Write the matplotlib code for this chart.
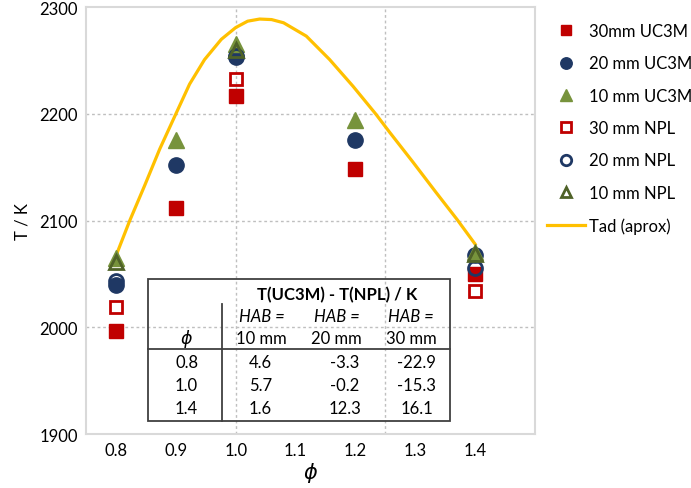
import matplotlib.pyplot as plt
from matplotlib.patches import Rectangle

plt.rcParams['font.family'] = ['Lato', 'DejaVu Sans']

# measured temperatures (K)
phi_uc3m = [0.8, 0.9, 1.0, 1.2, 1.4]
t30_uc3m = [1997, 2112, 2217, 2148, 2050]
t20_uc3m = [2040, 2152, 2253, 2176, 2068]
t10_uc3m = [2065, 2176, 2266, 2194, 2071]

phi_npl = [0.8, 1.0, 1.4]
t30_npl = [2019, 2233, 2034]
t20_npl = [2043, 2254, 2056]
t10_npl = [2061, 2260, 2069]

# adiabatic flame temperature
phi_tad = [0.8, 0.823, 0.848, 0.873, 0.9, 0.923, 0.948, 0.976, 1.0, 1.02, 1.04,
           1.06, 1.08, 1.118, 1.157, 1.196, 1.234, 1.257, 1.296, 1.334, 1.37, 1.4]
t_tad = [2067, 2100, 2133, 2167, 2200, 2228, 2251, 2270, 2281, 2287, 2289,
         2288.5, 2285.5, 2273, 2251, 2226, 2200, 2183, 2155, 2127, 2101, 2078]

# table T(UC3M) - T(NPL)
tab_phi = ['0.8', '1.0', '1.4']
tab_hab = ['10 mm', '20 mm', '30 mm']
tab_vals = [['4.6', '-3.3', '-22.9'],
            ['5.7', '-0.2', '-15.3'],
            ['1.6', '12.3', '16.1']]

red = '#C00000'
navy = '#1F3864'
green = '#77933C'
dgreen = '#4F6228'
gold = '#FFC000'
fs = 12

fig = plt.figure(figsize=(6.91, 4.89), dpi=100)
fig.set_facecolor('white')
ax = fig.add_axes([0.1245, 0.1104, 0.6497, 0.8726])

ax.plot(phi_tad, t_tad, color=gold, lw=2.3, zorder=2, label='Tad (aprox)')
ms = 10
ax.plot(phi_uc3m, t30_uc3m, ls='none', marker='s', ms=ms, color=red, mec=red, zorder=3, label='30mm UC3M')
ax.plot(phi_uc3m, t20_uc3m, ls='none', marker='o', ms=ms+1, color=navy, mec=navy, zorder=3, label='20 mm UC3M')
ax.plot(phi_uc3m, t10_uc3m, ls='none', marker='^', ms=ms+1, color=green, mec=green, zorder=3, label='10 mm UC3M')
ax.plot(phi_npl, t30_npl, ls='none', marker='s', ms=ms-1, mfc='none', mec=red, mew=2, zorder=4, label='30 mm NPL')
ax.plot(phi_npl, t20_npl, ls='none', marker='o', ms=ms, mfc='none', mec=navy, mew=2, zorder=4, label='20 mm NPL')
ax.plot(phi_npl, t10_npl, ls='none', marker='^', ms=ms, mfc='none', mec=dgreen, mew=2, zorder=4, label='10 mm NPL')

ax.set_xlim(0.75, 1.5)
ax.set_ylim(1900, 2300)
ax.set_xticks([0.8, 0.9, 1.0, 1.1, 1.2, 1.3, 1.4])
ax.set_xticklabels(['0.8', '0.9', '1.0', '1.1', '1.2', '1.3', '1.4'])
ax.set_yticks([1900, 2000, 2100, 2200, 2300])
ax.tick_params(length=0, labelsize=fs, pad=6, colors='#000000')
for v in [2000, 2100, 2200]:
    ax.axhline(v, color='#BFBFBF', lw=1, ls=(0, (2, 2)), zorder=1)
for v in [1.0, 1.25]:
    ax.axvline(v, color='#BFBFBF', lw=1, ls=(0, (2, 2)), zorder=1)
for s in ax.spines.values():
    s.set_color('#D9D9D9')
    s.set_linewidth(1.5)
ax.set_ylabel('T / K', fontsize=fs, labelpad=6)
ax.set_xlabel(r'$\phi$', fontsize=15, labelpad=1)

# inset table
tr = ax.transAxes
ax.add_patch(Rectangle((0.138, 0.030), 0.673, 0.333, transform=tr, fill=False,
                       ec='#404040', lw=1.3, zorder=5))
ax.plot([0.138, 0.811], [0.199, 0.199], transform=tr, color='#404040', lw=1.3, zorder=5)
ax.plot([0.303, 0.303], [0.030, 0.305], transform=tr, color='#404040', lw=1.3, zorder=5)
ax.text(0.559, 0.328, 'T(UC3M) - T(NPL) / K', transform=tr, ha='center', va='center',
        fontsize=fs, fontweight='bold')
ax.text(0.224, 0.225, r'$\phi$', transform=tr, ha='center', va='center', fontsize=12.5)
hx = [0.391, 0.558, 0.724]
vx = [0.388, 0.577, 0.737]
for i in range(3):
    ax.text(hx[i], 0.276, 'HAB =', transform=tr, ha='center', va='center',
            fontsize=fs, style='italic')
    ax.text(hx[i], 0.224, tab_hab[i], transform=tr, ha='center', va='center', fontsize=fs)
ry = [0.169, 0.115, 0.061]
for r in range(3):
    ax.text(0.224, ry[r], tab_phi[r], transform=tr, ha='center', va='center', fontsize=fs)
    for c in range(3):
        ax.text(vx[c], ry[r], tab_vals[r][c], transform=tr, ha='center', va='center', fontsize=fs)

handles, labels = ax.get_legend_handles_labels()
order = [1, 2, 3, 4, 5, 6, 0]
fig.legend([handles[i] for i in order], [labels[i] for i in order],
           loc='upper left', bbox_to_anchor=(547/691, 1 - 24/489), frameon=False,
           fontsize=fs, markerscale=0.75, handlelength=2.3, handletextpad=0.2,
           labelspacing=0.98, borderpad=0, borderaxespad=0)

plt.savefig('out.png', dpi=100)
